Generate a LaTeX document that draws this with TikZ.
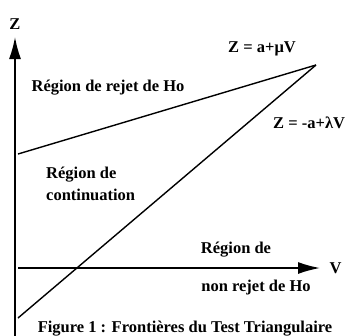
\documentclass[tikz,border=0pt]{standalone}
\usepackage{fontspec}
\setmainfont{Liberation Serif}
\usetikzlibrary{arrows.meta,positioning}
\begin{document}
\begin{tikzpicture}[x=1pt, y=-1pt, font=\fontsize{16.5}{19}\selectfont\bfseries,
  axis/.style={line width=1.6pt, -{Latex[length=22pt, width=12pt]}},
  bound/.style={line width=1.4pt},
  lbl/.style={inner sep=0pt, align=left}]
\useasboundingbox (0,0) rectangle (345,335);
% axes
\coordinate (o) at (15,345);
\coordinate (ztip) at (15,37);
\coordinate (vs) at (18,268);
\coordinate (vtip) at (320,268);
\draw[axis] (o) -- (ztip);
\draw[axis] (vs) -- (vtip);
\node (zlab) at (15,24) {Z};
\node[right=6pt of vtip] (vlab) {V};
% boundaries
\coordinate (apex) at (316,65);
\coordinate (up0) at (18,154);
\coordinate (lo0) at (18,318);
\draw[bound] (up0) -- (apex);
\draw[bound] (lo0) -- (apex);
\node (upeq) at (262,49) {Z = a+μV};
\node[lbl, anchor=west] (loeq) at (273,123) {Z = -a+λV};
% regions
\node (rejet) at (108,88) {Région de rejet de Ho};
\node[lbl, anchor=west] (cont) at (46,184) {Région de\\[3pt]continuation};
\node (nonr1) at (236,250) {Région de};
\node (nonr2) at (256,288) {non rejet de Ho};
\node (capt) at (185,329) {Figure 1 : Frontières du Test Triangulaire};
\end{tikzpicture}
\end{document}
